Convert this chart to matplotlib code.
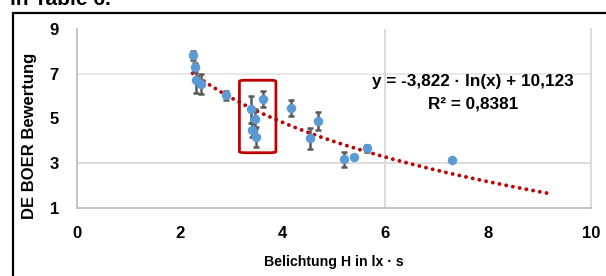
import numpy as np
import matplotlib
matplotlib.use("Agg")
import matplotlib.pyplot as plt
from matplotlib.patches import FancyBboxPatch, Rectangle

plt.rcParams['font.family'] = ['Liberation Sans', 'DejaVu Sans']

# data
exposure = [2.26, 2.30, 2.32, 2.41, 2.90, 3.39, 3.46, 3.40, 3.48, 3.61, 4.16, 4.69, 4.54, 5.19, 5.38, 5.64, 7.29]
rating   = [7.83, 7.28, 6.71, 6.54, 6.04, 5.42, 4.96, 4.48, 4.18, 5.87, 5.47, 4.88, 4.11, 3.17, 3.26, 3.67, 3.14]
rating_err = [0.20, 0.20, 0.55, 0.43, 0.20, 0.60, 0.45, 0.30, 0.44, 0.37, 0.35, 0.40, 0.47, 0.35, 0.05, 0.15, 0.05]
fit_a, fit_b = -3.822, 10.123
fit_range = [2.25, 9.26]
x_ticks = [0, 2, 4, 6, 8, 10]
y_ticks = [1, 3, 5, 7, 9]
highlight_box = [3.16, 3.47, 0.71, 3.24]  # x, y, w, h

W, H = 606, 276
fig = plt.figure(figsize=(W/100, H/100), dpi=100)

# outer frame
fig.patches.append(Rectangle((13/W, -0.05), 1.2, 1 - 13/H + 0.05, transform=fig.transFigure,
                             fill=False, edgecolor='black', linewidth=1.6))
fig.text(10/W, 1 - 5/H, "in Table 6.", fontsize=15, fontweight='bold', va='baseline', ha='left')

ax = fig.add_axes([77/W, 1 - 208/H, (591-77)/W, (208-29)/H])
ax.set_xlim(0, 10)
ax.set_ylim(1, 9)

ax.spines['top'].set_visible(False)
ax.spines['left'].set_color('#BFBFBF')
ax.spines['left'].set_linewidth(1.3)
ax.spines['bottom'].set_color('#BFBFBF')
ax.spines['bottom'].set_linewidth(1.3)
ax.spines['right'].set_color('#D9D9D9')
ax.spines['right'].set_linewidth(1.3)

for yv, c in [(3, '#D9D9D9'), (7, '#E6E6E6')]:
    ax.axhline(yv, color=c, linewidth=1.3, zorder=0)
ax.axvline(6, color='#D9D9D9', linewidth=1.3, zorder=0)

ax.set_xticks(x_ticks)
ax.set_yticks(y_ticks)
ax.tick_params(length=0, labelsize=12, pad=13)
ax.tick_params(axis='y', pad=13)
for lab in ax.get_xticklabels() + ax.get_yticklabels():
    lab.set_fontweight('bold')

# trend line
xs = np.linspace(fit_range[0], fit_range[1], 300)
ax.plot(xs, fit_a*np.log(xs) + fit_b, color='#C00000', linewidth=2.8,
        linestyle=(0, (0.01, 1.75)), dash_capstyle='round', zorder=2)

ax.errorbar(exposure, rating, yerr=rating_err, fmt='o', color='#5B9BD5', markersize=5.8,
            ecolor='#595959', elinewidth=1.8, capsize=2, capthick=1.8, zorder=3)

box = FancyBboxPatch((highlight_box[0], highlight_box[1]), highlight_box[2], highlight_box[3],
                     boxstyle='round,pad=0,rounding_size=0.12', mutation_aspect=0.45,
                     fill=False, edgecolor='#C00000', linewidth=2, zorder=4)
ax.add_patch(box)

ax.text(7.70, 6.65, "y = -3,822 · ln(x) + 10,123", fontsize=12.3, fontweight='bold', ha='center', va='center')
ax.text(7.70, 5.67, "R² = 0,8381", fontsize=12.3, fontweight='bold', ha='center', va='center')

ax.set_xlabel("Belichtung H in lx · s", fontsize=10.2, fontweight='bold', labelpad=10)
fig.text(30/W, 1 - 136/H, "DE BOER Bewertung", fontsize=12, fontweight='bold',
         rotation=90, ha='center', va='center')

fig.savefig("out.png", dpi=100)
